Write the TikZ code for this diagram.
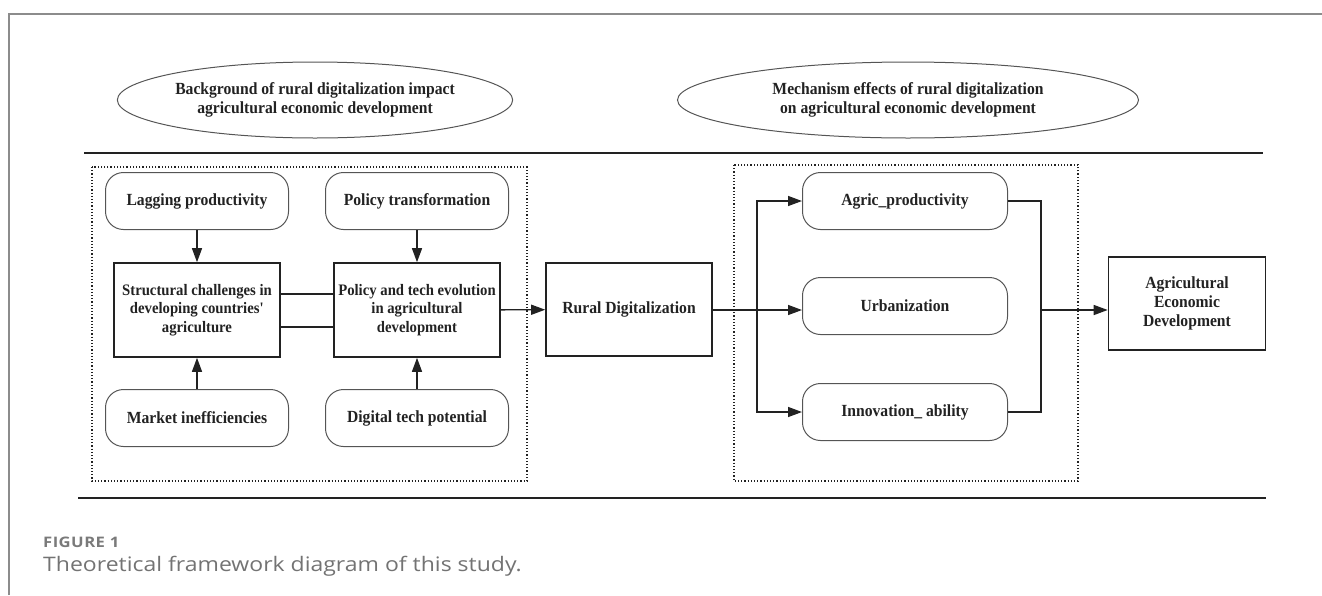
\documentclass[tikz,border=0pt]{standalone}
\usepackage{fontspec}
\setmainfont[FakeStretch=0.92]{Liberation Serif}
\newfontfamily\capfont[FakeStretch=1.15]{Open Sans}
\newfontfamily\figfont[FakeStretch=1.15,LetterSpace=3]{Open Sans}
\usetikzlibrary{shapes.geometric,arrows.meta}
\definecolor{framegray}{HTML}{8C8C8C}
\definecolor{ink}{HTML}{222222}
\definecolor{pillgray}{HTML}{555555}
\begin{document}
\begin{tikzpicture}[x=1pt,y=-1pt,
  txt/.style={font=\bfseries\fontsize{17}{19}\selectfont, align=center, text=ink},
  smalltxt/.style={font=\bfseries\fontsize{16}{18.5}\selectfont},
  ell/.style={ellipse, draw=pillgray, line width=1pt, inner sep=0pt, txt},
  pill/.style={draw=pillgray, line width=1pt, rounded corners=18pt, minimum width=183pt, minimum height=57pt, inner sep=0pt, txt},
  sq/.style={draw=ink, line width=1.6pt, minimum width=166pt, minimum height=94pt, inner sep=0pt, txt},
  dotbox/.style={draw=ink, dotted, line width=1.2pt},
  rulebar/.style={draw=ink, line width=1.8pt},
  conn/.style={draw=ink, line width=1.4pt},
  arr/.style={conn, -{Triangle[length=14pt,width=10pt]}}
]
\useasboundingbox (0,0) rectangle (1322,595);
% page frame
\draw[framegray, line width=1.5pt] (9,595) -- (9,14) -- (1322,14);

% heading ellipses
\node[ell, minimum width=354pt, minimum height=76pt] (bg) at (315,100) {Background of rural digitalization impact\\agricultural economic development};
\node[ell, minimum width=461pt, minimum height=76pt] (me) at (908,100) {Mechanism effects of rural digitalization\\on agricultural economic development};

% rules
\draw[rulebar] (84,153) -- (1263,153);
\draw[rulebar] (78,498) -- (1266,498);

% dotted groups
\draw[dotbox] (92,167) rectangle (527,481);
\draw[dotbox] (734,165) rectangle (1078,481);

% left group
\node[pill] (lag) at (197,201) {Lagging productivity};
\node[pill] (poltr) at (417,201) {Policy transformation};
\node[sq, smalltxt] (str) at (197,310) {Structural challenges in\\developing countries\textquotesingle\\agriculture};
\node[sq, smalltxt] (pte) at (417,310) {Policy and tech evolution\\in agricultural\\development};
\node[pill] (mkt) at (197,418) {Market inefficiencies};
\node[pill] (dig) at (417,418) {Digital tech potential};

% centre
\node[sq, minimum width=166pt, minimum height=93pt] (rural) at (629,309.5) {Rural Digitalization};

% right group
\node[pill, minimum width=205pt] (agp) at (905,201) {Agric\_productivity};
\node[pill, minimum width=205pt] (urb) at (905,306) {Urbanization};
\node[pill, minimum width=205pt] (inn) at (905,412) {Innovation\_\ ability};
\node[sq, minimum width=157pt, minimum height=93pt] (agri) at (1187,303.5) {Agricultural\\Economic\\Development};

% connectors left
\draw[arr] (lag) -- (str);
\draw[arr] (poltr) -- (pte);
\draw[arr] (mkt) -- (str);
\draw[arr] (dig) -- (pte);
\draw[conn] ([yshift=16pt]str.east) -- ([yshift=16pt]pte.west);
\draw[conn] ([yshift=-17pt]str.east) -- ([yshift=-17pt]pte.west);
\draw[arr] (pte) -- (rural);

% branch
\coordinate (bl) at (757,310);
\coordinate (br) at (1041,310);
\draw[conn, line width=1.8pt] (rural.east |- bl) -- (bl);
\draw[arr] (bl) -- (urb.west |- bl);
\draw[arr] (bl) |- (agp.west);
\draw[arr] (bl) |- (inn.west);
\draw[conn] (agp.east) -| (br);
\draw[conn] (inn.east) -| (br);
\draw[arr] (br) -- (agri.west |- br);

% caption
\node[anchor=base west, inner sep=0pt, font=\figfont\bfseries\fontsize{14.5}{16}\selectfont, text=black!52] (fig) at (43,547) {FIGURE 1};
\node[anchor=base west, inner sep=0pt, font=\capfont\fontsize{20}{23}\selectfont, text=black!55] (cap) at (43,571) {Theoretical framework diagram of this study.};
\end{tikzpicture}
\end{document}
